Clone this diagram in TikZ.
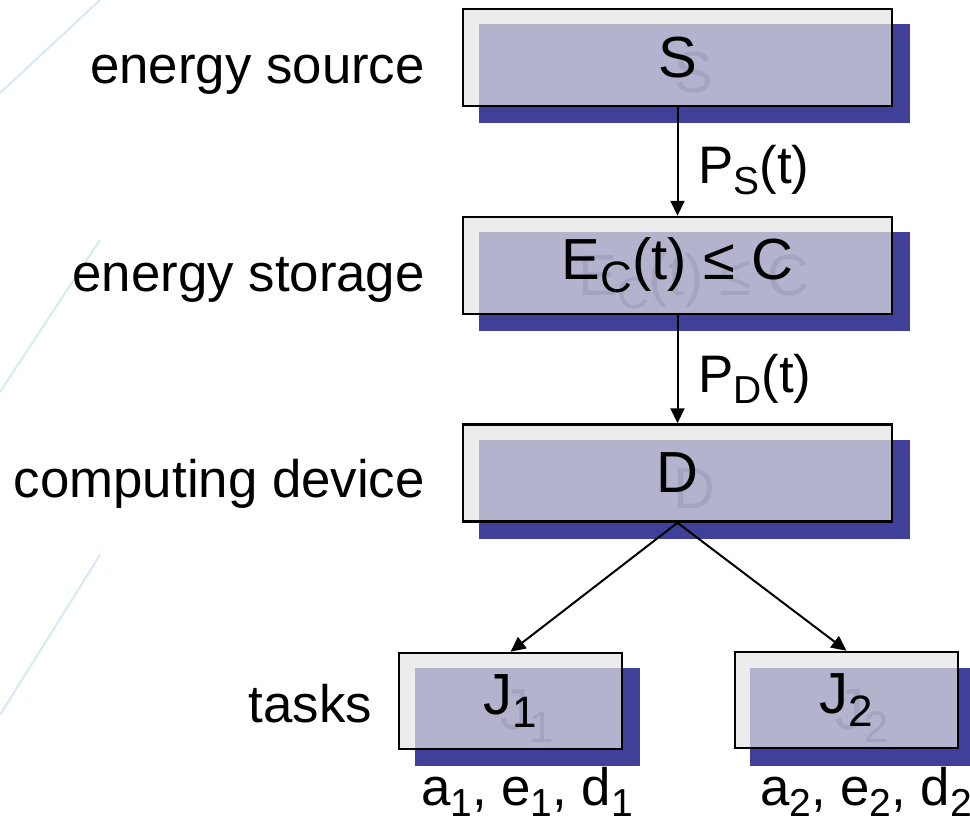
\documentclass[tikz,border=0pt]{standalone}
\usepackage{fontspec}
\setmainfont{Liberation Sans}
\usetikzlibrary{arrows.meta,positioning}
\definecolor{boxgray}{HTML}{E4E4E4}
\definecolor{shadeblue}{HTML}{40409A}
\definecolor{ghostblue}{HTML}{101070}
\definecolor{swoosh}{HTML}{D6EAF5}
\newcommand{\bigfont}{\fontsize{58}{64}\selectfont}
\newcommand{\lblfont}{\fontsize{52.8}{58}\selectfont}
\newcommand{\sub}[1]{\raisebox{-11pt}{\fontsize{39}{42}\selectfont #1}}
\newcommand{\bsub}[1]{\raisebox{-13pt}{\fontsize{44}{48}\selectfont #1}}

\begin{document}
\begin{tikzpicture}[x=1pt,y=-1pt,
  frontbox/.style={rectangle,draw=black,line width=2.5pt,fill=boxgray,fill opacity=0.7,text opacity=1,minimum width=429pt,minimum height=97pt,inner sep=0pt,font=\bigfont},
  shadebox/.style={rectangle,fill=shadeblue,text=ghostblue,minimum width=431pt,minimum height=99pt,inner sep=0pt,font=\bigfont},
  taskfront/.style={frontbox,minimum width=223pt,minimum height=96pt},
  taskshade/.style={shadebox,minimum width=225pt,minimum height=98pt},
  sidelabel/.style={anchor=base east,inner sep=0pt,font=\lblfont},
  flowlabel/.style={anchor=base west,inner sep=0pt,font=\lblfont},
  flow/.style={-{Triangle[length=15pt,width=14pt]},line width=2pt,black}]
\useasboundingbox (0,0) rectangle (970,823);
\fill[white] (0,0) rectangle (970,823);
% faint swooshes of the slide
\draw[swoosh,line width=2pt] (100,0) -- (0,93);
\draw[swoosh,line width=2pt] (100,240) -- (0,392);
\draw[swoosh,line width=2pt] (100,555) -- (0,715);
% shadows
\node[shadebox] (Sshade) at (694,73) {S};
\node[shadebox] (Eshade) at (694,281) {E\bsub{C}(t) ≤ C};
\node[shadebox] (Dshade) at (694,489) {D};
\node[taskshade] (J1shade) at (527.5,716.5) {J\bsub{1}};
\node[taskshade] (J2shade) at (862.5,716.5) {J\bsub{2}};
% boxes
\node[frontbox] (S) at (677.5,57.5) {S};
\node[frontbox] (E) at (677.5,265.5) {E\bsub{C}(t) ≤ C};
\node[frontbox] (D) at (677.5,473) {D};
\node[taskfront] (J1) at (510.5,701) {J\bsub{1}};
\node[taskfront] (J2) at (846.5,700) {J\bsub{2}};
% flows
\draw[flow] (S.south) -- (E.north);
\draw[flow] (E.south) -- (D.north);
\draw[flow] (D.south) -- (J1.north);
\draw[flow] (D.south) -- (J2.north);
\node[flowlabel] (PS) at (698,183) {P\sub{S}(t)};
\node[flowlabel] (PD) at (698,392) {P\sub{D}(t)};
% labels
\node[sidelabel] (lsrc) at (425,83) {energy source};
\node[sidelabel] (lsto) at (425,291) {energy storage};
\node[sidelabel] (ldev) at (425,497) {computing device};
\node[sidelabel] (ltsk) at (372,722) {tasks};
\node[anchor=base,inner sep=0pt,font=\lblfont] (par1) at (527,805) {a\sub{1}, e\sub{1}, d\sub{1}};
\node[anchor=base,inner sep=0pt,font=\lblfont] (par2) at (866,805) {a\sub{2}, e\sub{2}, d\sub{2}};
\end{tikzpicture}
\end{document}
